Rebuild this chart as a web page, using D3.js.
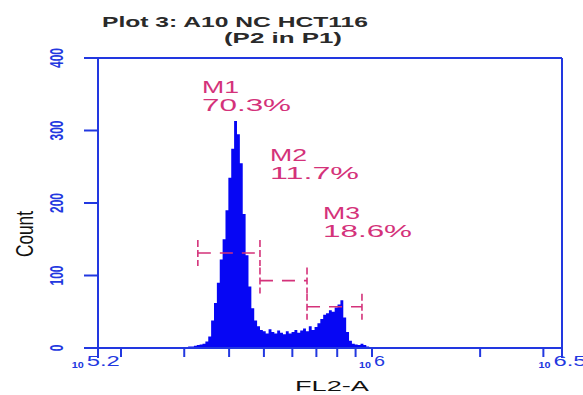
<!DOCTYPE html>
<html>
<head>
<meta charset="utf-8">
<script src="https://cdn.jsdelivr.net/npm/d3@7"></script>
<style>
	html, body { margin: 0; padding: 0; background: #fff; }
	svg { display: block; }
</style>
</head>
<body>
<div id="chart"></div>
<script>
// histogram, FL2-A channel in log10 units
const binStartLog = 5.48;
const binWidthLog = 0.008;
const counts = [1, 2, 2, 3, 4, 5, 6, 9, 16, 38,
	62, 90, 122, 150, 190, 235, 275, 313, 295, 255,
	185, 128, 85, 55, 38, 30, 25, 23, 20, 26,
	22, 20, 24, 21, 19, 23, 20, 22, 25, 21,
	24, 27, 23, 30, 25, 29, 34, 40, 46, 48,
	52, 50, 56, 60, 66, 42, 22, 10, 6, 5,
	4, 6, 4, 2, 1, 0];

// markers
const markerNames = ["M1", "M2", "M3"];
const markerPct = ["70.3%", "11.7%", "18.6%"];
const markerStartLog = [5.515, 5.688, 5.819];
const markerEndLog = [5.688, 5.819, 5.972];
const markerLevel = [131, 93, 57];

// axes
const xDomainLog = [5.237, 6.529];
const xMinorTicks = [2e5, 3e5, 4e5, 5e5, 6e5, 7e5, 8e5, 9e5, 1e6, 2e6, 3e6];
const xLabelLog = [5.2, 6, 6.5];
const xLabelText = ["5.2", "6", "6.5"];
const yTicks = [0, 100, 200, 300, 400];

const titleLines = ["Plot 3: A10 NC HCT116", "(P2 in P1)"];
const xTitle = "FL2-A";
const yTitle = "Count";

const W = 583, H = 395;
const plotL = 98, plotR = 562, plotT = 58, plotB = 348;
const axisBlue = "#2238e0";
const histBlue = "#0606f4";
const markerPink = "#d4327a";
const font = "'Liberation Sans', Arial, sans-serif";

var x = d3.scaleLog()
	.domain(xDomainLog.map(v => Math.pow(10, v)))
	.range([plotL, plotR]);

var y = d3.scaleLinear()
	.domain([0, 400])
	.range([plotB, plotT]);

var svg = d3.create("svg")
	.attr("width", W)
	.attr("height", H)
	.attr("font-family", font);

// stretch text to the wide look of the original screenshot
function fit(sel, len) {
	sel.attr("textLength", len).attr("lengthAdjust", "spacingAndGlyphs");
}

// title
svg.append("text")
		.attr("x", 102).attr("y", 27)
		.attr("font-size", 15).attr("font-weight", "bold")
		.attr("fill", "#2a2a2a")
		.text(titleLines[0])
		.call(fit, 266);
svg.append("text")
		.attr("x", 224).attr("y", 43)
		.attr("font-size", 15).attr("font-weight", "bold")
		.attr("fill", "#2a2a2a")
		.text(titleLines[1])
		.call(fit, 118);

// histogram
const bins = counts.map((c, i) => ({lo: binStartLog + i * binWidthLog, c: c}));
bins.push({lo: binStartLog + counts.length * binWidthLog, c: 0});

var area = d3.area()
	.curve(d3.curveStepAfter)
	.x(d => x(Math.pow(10, d.lo)))
	.y0(y(0))
	.y1(d => y(d.c));

svg.append("path")
		.datum(bins)
		.attr("d", area)
		.attr("fill", histBlue);

// frame and axes
const frame = svg.append("g")
		.attr("stroke", axisBlue)
		.attr("stroke-width", 2)
		.attr("fill", "none");

frame.append("line")
		.attr("x1", x(Math.pow(10, xLabelLog[0]))).attr("x2", plotR)
		.attr("y1", y(0)).attr("y2", y(0));
frame.append("line")
		.attr("x1", x(Math.pow(10, xLabelLog[0]))).attr("x2", plotR)
		.attr("y1", y(400)).attr("y2", y(400));
frame.append("line")
		.attr("x1", plotL).attr("x2", plotL)
		.attr("y1", y(400)).attr("y2", y(0) + 10);
frame.append("line")
		.attr("x1", plotR).attr("x2", plotR)
		.attr("y1", y(400)).attr("y2", y(0) + 10);

frame.selectAll(".xt")
	.data(xMinorTicks)
	.join("line")
		.attr("class", "xt")
		.attr("x1", d => x(d)).attr("x2", d => x(d))
		.attr("y1", y(0)).attr("y2", y(0) + 9);

frame.selectAll(".yt")
	.data(yTicks)
	.join("line")
		.attr("class", "yt")
		.attr("x1", plotL - 14).attr("x2", plotL)
		.attr("y1", d => y(d)).attr("y2", d => y(d));

// y tick labels, rotated and stretched
svg.append("g")
		.attr("fill", axisBlue)
		.attr("font-size", 12)
		.attr("font-weight", "bold")
	.selectAll("text")
	.data(yTicks)
	.join("text")
		.attr("transform", d => `translate(63,${y(d)}) scale(1.5,1) rotate(-90)`)
		.attr("text-anchor", "middle")
		.text(d => d);

svg.append("text")
		.attr("transform", `translate(33,234) scale(1.45,1) rotate(-90)`)
		.attr("text-anchor", "middle")
		.attr("font-size", 16)
		.attr("fill", "#111")
		.text(yTitle)
		.call(fit, 46);

// x tick labels: small "10" then the exponent
const xl = svg.append("g").attr("fill", axisBlue);
xLabelLog.forEach((v, i) => {
	const px = x(Math.pow(10, v));
	xl.append("text")
		.attr("x", px - 1).attr("y", 368)
		.attr("text-anchor", "end")
		.attr("font-size", 9).attr("font-weight", "bold")
		.text("10")
		.call(fit, 12);
	xl.append("text")
		.attr("x", px + 2).attr("y", 366)
		.attr("font-size", 14)
		.text(xLabelText[i])
		.call(fit, xLabelText[i].length * 11);
});

svg.append("text")
		.attr("x", 332).attr("y", 391)
		.attr("text-anchor", "middle")
		.attr("font-size", 15)
		.attr("fill", "#111")
		.text(xTitle)
		.call(fit, 74);

// markers
const markers = markerNames.map((n, i) => ({
	name: n, pct: markerPct[i],
	x0: x(Math.pow(10, markerStartLog[i])),
	x1: x(Math.pow(10, markerEndLog[i])),
	yl: y(markerLevel[i])
}));

const mg = svg.append("g")
		.attr("stroke", markerPink)
		.attr("stroke-width", 1.6)
		.attr("fill", "none");

markers.forEach(m => {
	mg.append("line")
		.attr("x1", m.x0).attr("x2", m.x1)
		.attr("y1", m.yl).attr("y2", m.yl)
		.attr("stroke-dasharray", "13,9");
	[m.x0, m.x1].forEach(px => {
		mg.append("line")
			.attr("x1", px).attr("x2", px)
			.attr("y1", m.yl - 13).attr("y2", m.yl + 13)
			.attr("stroke-dasharray", "7,3");
	});
});

// marker labels placed where the operator left them
const labelSpots = [[202, 93], [270, 161], [323, 219]];
const lg = svg.append("g")
		.attr("fill", markerPink)
		.attr("font-size", 17);
markers.forEach((m, i) => {
	lg.append("text")
		.attr("x", labelSpots[i][0]).attr("y", labelSpots[i][1])
		.text(m.name)
		.call(fit, 37);
	lg.append("text")
		.attr("x", labelSpots[i][0]).attr("y", labelSpots[i][1] + 18)
		.text(m.pct)
		.call(fit, 89);
});

document.getElementById("chart").appendChild(svg.node());
</script>
</body>
</html>
